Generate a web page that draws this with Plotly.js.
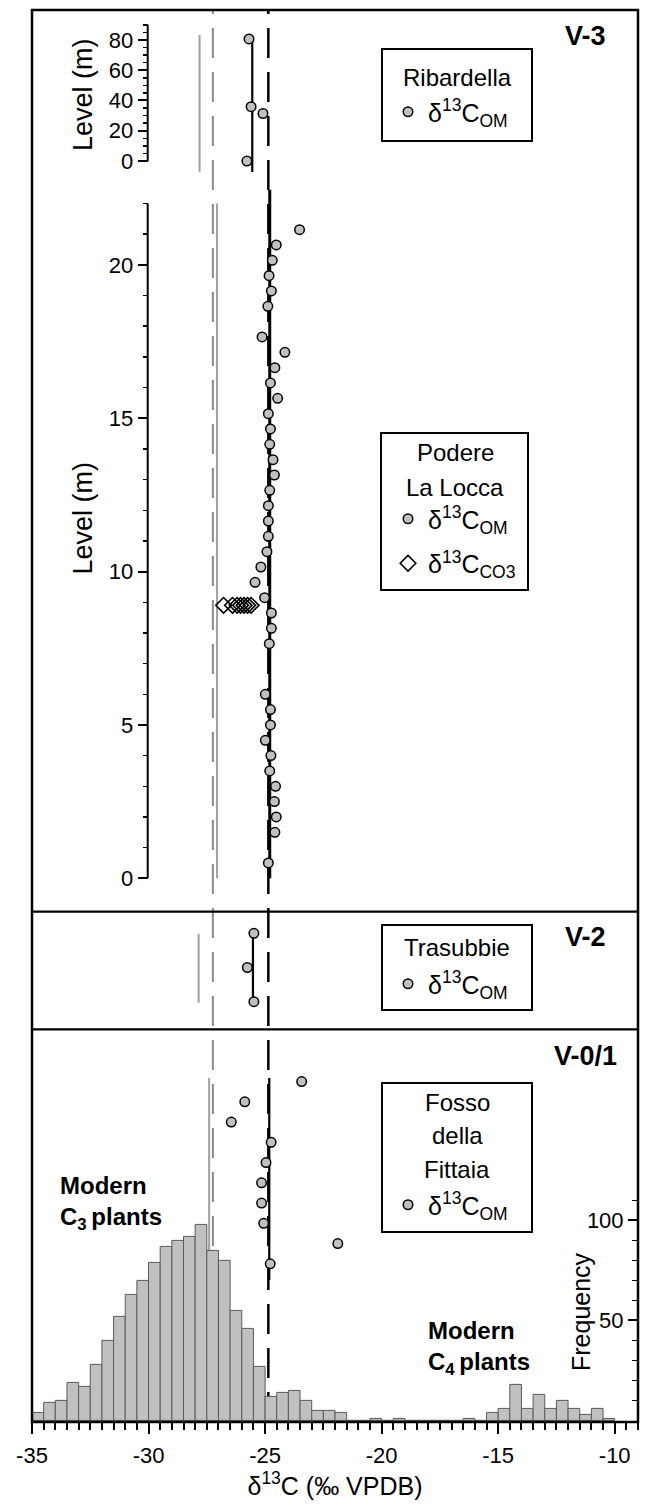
<!DOCTYPE html>
<html>
<head>
<meta charset="utf-8">
<script src="https://cdn.plot.ly/plotly-3.0.1.min.js"></script>
<style>
  html, body { margin: 0; padding: 0; background: #fff; }
  #chart { width: 646px; height: 1511px; }
</style>
</head>
<body>
<div id="chart"></div>
<script>
// ---------------- DATA ----------------
// Modern plant δ13C histogram (bin width 0.5 ‰): left edge of each bin and its count
const histBinLeft = [-35, -34.5, -34, -33.5, -33, -32.5, -32, -31.5, -31, -30.5,
                     -30, -29.5, -29, -28.5, -28, -27.5, -27, -26.5, -26, -25.5,
                     -25, -24.5, -24, -23.5, -23, -22.5, -22, -21.5, -21, -20.5,
                     -20, -19.5, -19, -18.5, -18, -17.5, -17, -16.5, -16, -15.5,
                     -15, -14.5, -14, -13.5, -13, -12.5, -12, -11.5, -11, -10.5];
const histCounts  = [4, 9, 10, 19, 17, 28, 40, 52, 63, 70,
                     79, 87, 90, 92, 98, 85, 80, 55, 46, 27,
                     12, 14, 15, 10, 5, 5, 4, 0, 0, 1,
                     0, 1, 0, 0, 0, 0, 0, 1, 0, 4,
                     6, 18, 6, 13, 6, 10, 6, 3, 6, 1];

// Ribardella (V-3), level in m
const ribLevel = [80.7, 35.9, 31.4, 0];
const ribOM    = [-25.69, -25.60, -25.09, -25.78];

// Podere La Locca (V-3), level in m
const pllLevel = [21.15, 20.65, 20.15, 19.65, 19.15, 18.65, 17.65, 17.15, 16.65, 16.15,
                  15.65, 15.15, 14.65, 14.15, 13.65, 13.15, 12.65, 12.15, 11.65, 11.15,
                  10.65, 10.15, 9.65, 9.15, 8.65, 8.15, 7.65, 6.0, 5.5, 5.0,
                  4.5, 4.0, 3.5, 3.0, 2.5, 2.0, 1.5, 0.5];
const pllOM    = [-23.52, -24.52, -24.69, -24.83, -24.73, -24.88, -25.13, -24.15, -24.58, -24.77,
                  -24.46, -24.86, -24.77, -24.80, -24.66, -24.60, -24.80, -24.86, -24.86, -24.86,
                  -24.92, -25.18, -25.43, -25.02, -24.73, -24.73, -24.82, -24.99, -24.77, -24.77,
                  -24.99, -24.75, -24.80, -24.55, -24.60, -24.52, -24.58, -24.86];
const pllCO3Level = [8.9, 8.9, 8.9, 8.9, 8.9, 8.9, 8.9];
const pllCO3      = [-26.78, -26.40, -26.20, -26.05, -25.90, -25.75, -25.60];

// Trasubbie (V-2), sample order from bottom
const traLevel = [3, 2, 1];
const traOM    = [-25.48, -25.76, -25.48];

// Fosso della Fittaia (V-0/1), sample order from bottom
const fosLevel = [1, 2, 3, 4, 5, 6, 7, 8, 9, 10];
const fosOM    = [-24.78, -21.88, -25.06, -25.15, -25.15, -24.96, -24.74, -26.45, -25.87, -23.43];

// Section mean lines (black) and reference lines (grey): value, bottom level, top level
const ribMeanLine = [-25.55, -7.3, 80.7];
const pllMeanLine = [-24.80, 0, 22.45];
const traMeanLine = [-25.52, 1, 3];
const fosMeanLine = [-24.82, 0.21, 10.18];
const ribGreyLine = [-27.81, -7.3, 83.3];
const pllGreyLine = [-27.06, 0, 22];
const traGreyLine = [-27.85, 0.97, 2.98];
const fosGreyLine = [-27.40, -6.8, 10.18];

// Whole-figure dashed reference lines
const greyDashed  = -27.24;
const blackDashed = -24.86;

// Axis ticks
const xTickVals = [-35, -30, -25, -20, -15, -10];
const xTickText = ['-35', '-30', '-25', '-20', '-15', '-10'];
const pllTicks = [0, 5, 10, 15, 20];
const pllMinor = [1, 2, 3, 4, 6, 7, 8, 9, 11, 12, 13, 14, 16, 17, 18, 19, 21, 22];
const ribTicks = [0, 20, 40, 60, 80];
const ribMinor = [5, 10, 15, 25, 30, 35, 45, 50, 55, 65, 70, 75, 85, 90];
const freqTicks = [50, 100];
const freqMinor = [10, 20, 30, 40, 60, 70, 80, 90, 110];

// Site key titles (one line each)
const ribTitle = ['Ribardella'];
const pllTitle = ['Podere', 'La Locca'];
const traTitle = ['Trasubbie'];
const fosTitle = ['Fosso', 'della', 'Fittaia'];

// ---------------- LAYOUT HELPERS ----------------
const W = 646, H = 1511;
const M = {l: 32, r: 8, t: 10, b: 89};
const PW = W - M.l - M.r, PH = H - M.t - M.b;
const px = x => (x - M.l) / PW;
const py = y => (H - M.b - y) / PH;

const FONT = 'Liberation Sans, Arial, sans-serif';
const OMlabel = 'δ<sup>13</sup>C<sub>OM</sub>';
const CO3label = 'δ<sup>13</sup>C<sub>CO3</sub>';
const circleMarker = {symbol: 'circle', size: 9.5, color: '#c0c0c0', line: {color: '#000', width: 1.5}};

// ---------------- TRACES ----------------
const traces = [];
// histogram
traces.push({
  type: 'bar', x: histBinLeft.map(v => v + 0.25), y: histCounts, width: 0.5,
  xaxis: 'x', yaxis: 'y', showlegend: false,
  marker: {color: '#c0c0c0', line: {color: '#5a5a5a', width: 1}}
});
function meanLine(arr, ya) {
  return {type: 'scatter', mode: 'lines', x: [arr[0], arr[0]], y: [arr[1], arr[2]],
          xaxis: 'x', yaxis: ya, showlegend: false, hoverinfo: 'skip',
          line: {color: '#000', width: 2.2}};
}
// Fosso
traces.push(meanLine(fosMeanLine, 'y2'));
traces.push({type: 'scatter', mode: 'markers', x: fosOM, y: fosLevel, xaxis: 'x', yaxis: 'y2',
  name: OMlabel, legend: 'legend4', marker: circleMarker});
// Trasubbie
traces.push(meanLine(traMeanLine, 'y3'));
traces.push({type: 'scatter', mode: 'markers', x: traOM, y: traLevel, xaxis: 'x', yaxis: 'y3',
  name: OMlabel, legend: 'legend3', marker: circleMarker});
// Podere La Locca
const pllLine = meanLine(pllMeanLine, 'y4'); pllLine.line.width = 3;
traces.push(pllLine);
traces.push({type: 'scatter', mode: 'markers', x: pllOM, y: pllLevel, xaxis: 'x', yaxis: 'y4',
  name: OMlabel, legend: 'legend2', legendgroup: 'om', marker: circleMarker});
traces.push({type: 'scatter', mode: 'markers', x: pllCO3, y: pllCO3Level, xaxis: 'x', yaxis: 'y4',
  name: CO3label, legend: 'legend2', legendgroup: 'co3',
  marker: {symbol: 'diamond-open', size: 12, color: '#000', line: {color: '#000', width: 1.6}}});
// Ribardella
traces.push(meanLine(ribMeanLine, 'y5'));
traces.push({type: 'scatter', mode: 'markers', x: ribOM, y: ribLevel, xaxis: 'x', yaxis: 'y5',
  name: OMlabel, legend: 'legend', marker: circleMarker});

// ---------------- SHAPES ----------------
const shapes = [];
function greyLine(arr, ya) {
  shapes.push({type: 'line', layer: 'below', xref: 'x', yref: ya, x0: arr[0], x1: arr[0], y0: arr[1], y1: arr[2],
               line: {color: '#a0a0a0', width: 2}});
}
greyLine(ribGreyLine, 'y5');
greyLine(pllGreyLine, 'y4');
greyLine(traGreyLine, 'y3');
greyLine(fosGreyLine, 'y2');
shapes.push({type: 'line', layer: 'below', xref: 'x', yref: 'paper', x0: greyDashed, x1: greyDashed, y0: 0, y1: 1,
             line: {color: '#8a8a8a', width: 2, dash: '30px,14px'}});
shapes.push({type: 'line', layer: 'below', xref: 'x', yref: 'paper', x0: blackDashed, x1: blackDashed, y0: 0, y1: 1,
             line: {color: '#000', width: 2.5, dash: '30px,14px'}});
// level axis lines
const axX = px(147.7);
shapes.push({type: 'line', xref: 'paper', yref: 'y4', x0: axX, x1: axX, y0: 0, y1: 22, line: {color: '#000', width: 2}});
shapes.push({type: 'line', xref: 'paper', yref: 'y5', x0: axX, x1: axX, y0: 0, y1: 90, line: {color: '#000', width: 2}});
// panel separators and frame
const sepV3 = py(911.7), sepV2 = py(1029.3);
shapes.push({type: 'line', xref: 'paper', yref: 'paper', x0: 0, x1: 1, y0: sepV3, y1: sepV3, line: {color: '#000', width: 2.2}});
shapes.push({type: 'line', xref: 'paper', yref: 'paper', x0: 0, x1: 1, y0: sepV2, y1: sepV2, line: {color: '#000', width: 2.2}});
shapes.push({type: 'rect', xref: 'paper', yref: 'paper', x0: 0, x1: 1, y0: 0, y1: 1, line: {color: '#000', width: 2.5}});
// legend frames (boxes around each site's key)
function legendFrame(x0, y0, x1, y1) {
  shapes.push({type: 'rect', xref: 'paper', yref: 'paper', x0: px(x0), x1: px(x1), y0: py(y1), y1: py(y0),
               fillcolor: '#fff', line: {color: '#000', width: 2}});
}
legendFrame(382, 49, 532, 141);
legendFrame(381, 433, 528, 590);
legendFrame(382, 925, 532, 1010);
legendFrame(382, 1083, 532, 1232);

// ---------------- ANNOTATIONS ----------------
const ann = [];
function note(text, x, y, opts) {
  ann.push(Object.assign({text: text, xref: 'paper', yref: 'paper', x: px(x), y: py(y),
    showarrow: false, xanchor: 'center', yanchor: 'middle', font: {family: FONT, size: 24, color: '#000'}}, opts || {}));
}
note('Level (m)', 83, 95, {textangle: -90, font: {family: FONT, size: 27, color: '#000'}});
note('Level (m)', 82, 518.5, {textangle: -90, font: {family: FONT, size: 27, color: '#000'}});
note('Frequency', 581, 1312, {textangle: -90, font: {family: FONT, size: 25, color: '#000'}});
note('<b>V-3</b>', 585, 36, {font: {family: FONT, size: 27, color: '#000'}});
note('<b>V-2</b>', 585, 937, {font: {family: FONT, size: 27, color: '#000'}});
note('<b>V-0/1</b>', 585, 1056, {font: {family: FONT, size: 27, color: '#000'}});
note('<b>Modern<br>C<sub>3 </sub>plants</b>', 58, 1203, {xanchor: 'left', align: 'left', font: {family: FONT, size: 24, color: '#000'}});
note('<b>Modern<br>C<sub>4 </sub>plants</b>', 426, 1348, {xanchor: 'left', align: 'left', font: {family: FONT, size: 24, color: '#000'}});
// site key titles, each line centred in its box
function keyTitle(lines, cx, firstY, step) {
  lines.forEach((t, i) => note(t, cx, firstY + i * step, {font: {family: FONT, size: 24, color: '#000'}}));
}
keyTitle(ribTitle, 457, 77, 0);
keyTitle(pllTitle, 455, 452, 35);
keyTitle(traTitle, 457, 947, 0);
keyTitle(fosTitle, 457, 1102, 33.5);

// ---------------- LEGENDS (site keys: symbol rows only) ----------------
function legendBox(x, y, extra) {
  return Object.assign({x: px(x), y: py(y), xanchor: 'left', yanchor: 'top', bgcolor: 'rgba(0,0,0,0)',
    borderwidth: 0, font: {family: FONT, size: 25, color: '#000'},
    itemwidth: 30, tracegroupgap: 0, traceorder: 'normal'}, extra || {});
}

// ---------------- AXES ----------------
const tickFont = {family: FONT, size: 22, color: '#000'};
const layout = {
  width: W, height: H, margin: M, paper_bgcolor: '#fff', plot_bgcolor: 'rgba(0,0,0,0)',
  font: {family: FONT, color: '#000'}, showlegend: true, bargap: 0,
  xaxis: {domain: [0, 1], range: [-35, -9], anchor: 'y', showline: false, showgrid: false, zeroline: false,
    tickmode: 'array', tickvals: xTickVals, ticktext: xTickText, ticks: 'outside', ticklen: 11, tickwidth: 2,
    tickcolor: '#000', tickfont: tickFont, ticklabelstandoff: 3,
    minor: {dtick: 0.5, tick0: -35, ticks: 'outside', ticklen: 7, tickwidth: 2, tickcolor: '#000', showgrid: false},
    title: {text: 'δ<sup>13</sup>C (‰ VPDB)', font: {family: FONT, size: 25, color: '#000'}, standoff: 9}},
  yaxis: {domain: [0, sepV2], range: [-0.8, (H - M.b - 1029.3) / 2 - 0.8], anchor: 'free', position: 1, side: 'left',
    showline: false, showgrid: false, zeroline: false, tickmode: 'array', tickvals: freqTicks,
    ticks: 'outside', ticklen: 10, tickwidth: 2, tickcolor: '#000', tickfont: tickFont,
    minor: {tickmode: 'array', tickvals: freqMinor, ticks: 'outside', ticklen: 6, tickwidth: 1.5, tickcolor: '#000'}},
  yaxis2: {overlaying: 'y', range: [-6.81, 12.58], visible: false},
  yaxis3: {domain: [sepV2, sepV3], range: [0.193, 3.632], visible: false, anchor: 'x'},
  yaxis4: {domain: [sepV3, py(185)], range: [-1.089, 22.605], anchor: 'free', position: axX, side: 'left',
    showline: false, showgrid: false, zeroline: false, tickmode: 'array', tickvals: pllTicks,
    ticks: 'outside', ticklen: 10, tickwidth: 2, tickcolor: '#000', tickfont: tickFont,
    minor: {tickmode: 'array', tickvals: pllMinor, ticks: 'outside', ticklen: 5, tickwidth: 1.5, tickcolor: '#000'}},
  yaxis5: {domain: [py(185), 1], range: [-15.87, 99.83], anchor: 'free', position: axX, side: 'left',
    showline: false, showgrid: false, zeroline: false, tickmode: 'array', tickvals: ribTicks,
    ticks: 'outside', ticklen: 10, tickwidth: 2, tickcolor: '#000', tickfont: tickFont,
    minor: {tickmode: 'array', tickvals: ribMinor, ticks: 'outside', ticklen: 5, tickwidth: 1.5, tickcolor: '#000'}},
  legend:  legendBox(388, 89),
  legend2: legendBox(388, 496, {traceorder: 'grouped', tracegroupgap: 9}),
  legend3: legendBox(388, 961),
  legend4: legendBox(388, 1182),
  shapes: shapes,
  annotations: ann
};

Plotly.newPlot('chart', traces, layout, {displayModeBar: false, staticPlot: true});
</script>
</body>
</html>
